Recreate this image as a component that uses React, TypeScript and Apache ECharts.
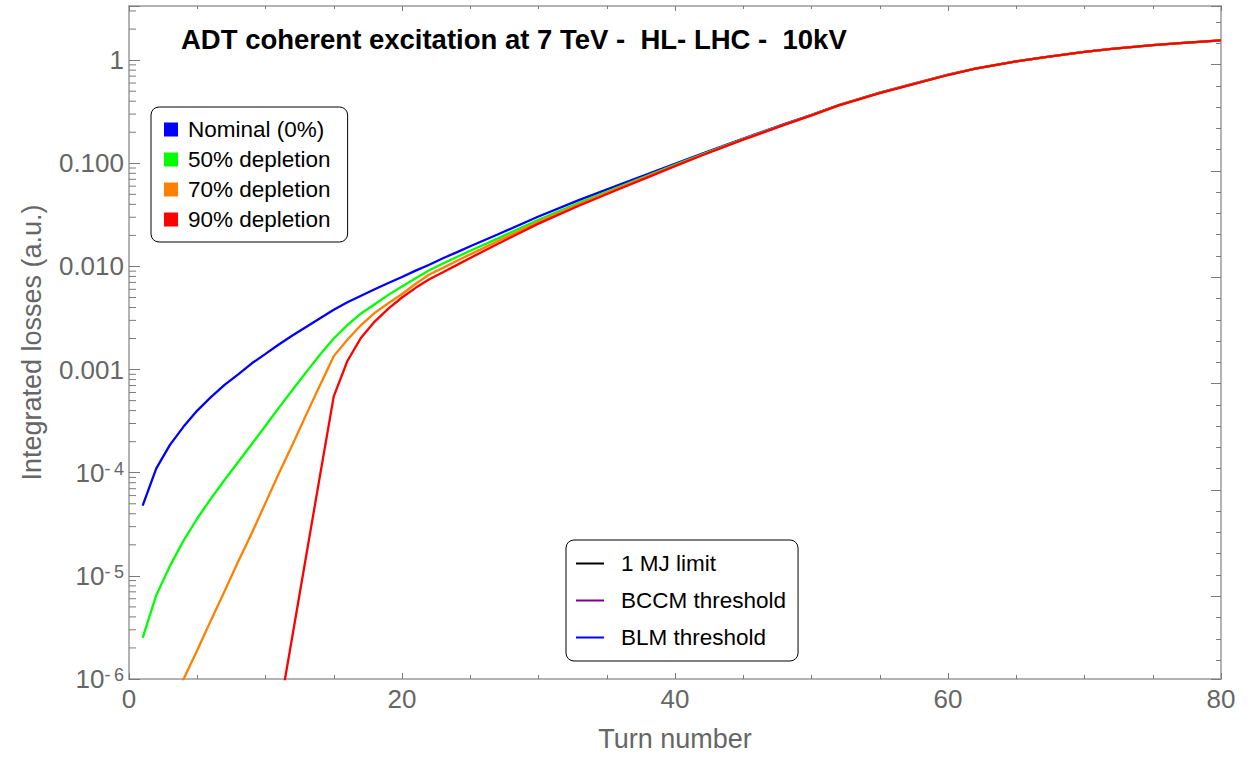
import React, { useEffect, useRef } from "react";
import * as echarts from "echarts";

// ---- data ----
const turns = [1, 2, 3, 4, 5, 6, 7, 8, 9, 10, 11, 12, 13, 14, 15, 16, 17, 18, 19, 20, 21, 22, 23, 24, 25, 27, 30, 33, 36, 38, 40, 42, 45, 48, 50, 52, 55, 57, 60, 62, 65, 67, 70, 72, 75, 77, 80];

const nominal = [4.8e-5, 1.1e-4, 1.86e-4, 2.8e-4, 4.0e-4, 5.4e-4, 7.1e-4, 9.0e-4, 1.15e-3, 1.42e-3, 1.76e-3, 2.15e-3, 2.6e-3, 3.15e-3, 3.8e-3, 4.5e-3, 5.2e-3, 6.0e-3, 6.9e-3, 7.9e-3, 9.1e-3, 0.0104, 0.012, 0.0137, 0.01567, 0.0204, 0.0305, 0.04416, 0.0624, 0.0785, 0.0989, 0.1245, 0.1738, 0.2399, 0.2951, 0.3673, 0.4842, 0.5689, 0.7244, 0.8279, 0.9727, 1.0617, 1.2023, 1.2882, 1.3964, 1.4622, 1.556];

const depletion50 = [2.5e-6, 6.5e-6, 1.25e-5, 2.2e-5, 3.6e-5, 5.6e-5, 8.5e-5, 1.27e-4, 1.9e-4, 2.85e-4, 4.3e-4, 6.4e-4, 9.5e-4, 1.4e-3, 2.0e-3, 2.7e-3, 3.5e-3, 4.3e-3, 5.3e-3, 6.4e-3, 7.7e-3, 9.2e-3, 0.01067, 0.01233, 0.01419, 0.01862, 0.02838, 0.04169, 0.05984, 0.07603, 0.09661, 0.1222, 0.1718, 0.2377, 0.2931, 0.3656, 0.4819, 0.5662, 0.7211, 0.8279, 0.9727, 1.0617, 1.2023, 1.2882, 1.3964, 1.4622, 1.556];

const depletion70 = [null, null, 5.1e-7, 1.0e-6, 1.9e-6, 3.7e-6, 7.1e-6, 1.38e-5, 2.6e-5, 5.1e-5, 1.0e-4, 1.9e-4, 3.7e-4, 7.1e-4, 1.35e-3, 1.95e-3, 2.7e-3, 3.55e-3, 4.4e-3, 5.4e-3, 6.8e-3, 8.35e-3, 9.68e-3, 0.01127, 0.0131, 0.01754, 0.0271, 0.04027, 0.05848, 0.07464, 0.09528, 0.1211, 0.1706, 0.2366, 0.2917, 0.3648, 0.4808, 0.5649, 0.7194, 0.8279, 0.9727, 1.0617, 1.2023, 1.2882, 1.3964, 1.4622, 1.556];

const depletion90 = [null, null, null, null, null, null, null, null, null, null, 4.7e-7, 2.75e-6, 1.62e-5, 9.5e-5, 5.5e-4, 1.21e-3, 2.04e-3, 2.92e-3, 3.9e-3, 5.0e-3, 6.2e-3, 7.5e-3, 8.77e-3, 0.0103, 0.01208, 0.01652, 0.026, 0.039, 0.05689, 0.07311, 0.09376, 0.1197, 0.1694, 0.2355, 0.2911, 0.3639, 0.4797, 0.5636, 0.7178, 0.8279, 0.9727, 1.0617, 1.2023, 1.2882, 1.3964, 1.4622, 1.556];

const seriesNames = ["Nominal (0%)", "50% depletion", "70% depletion", "90% depletion"];
const seriesColors = ["#0000ff", "#00ff00", "#ff8000", "#ff0000"];
const thresholdNames = ["1 MJ limit", "BCCM threshold", "BLM threshold"];
const thresholdColors = ["#000000", "#800080", "#0000ff"];

const xMin = 0;
const xMax = 80;
const yMin = 1e-6;
const yMax = 3.35;

const FONT = "'Liberation Sans', Arial, Helvetica, sans-serif";
const GRAY = "#666666";
const FRAME = "#9a9a9a";
const TICK = "#7a7a7a";

function pairs(values: (number | null)[]) {
  const out: [number, number][] = [];
  turns.forEach((t, i) => {
    const v = values[i];
    if (v !== null && v !== undefined) out.push([t, v]);
  });
  return out;
}

function logMinorTickValues() {
  const vals: number[] = [];
  for (let e = -6; e <= 0; e++) {
    for (let k = 2; k <= 9; k++) {
      const v = k * Math.pow(10, e);
      if (v > yMin && v < yMax) vals.push(v);
    }
  }
  return vals;
}

export default function App() {
  const ref = useRef<HTMLDivElement>(null);

  useEffect(() => {
    if (!ref.current) return;
    const chart = echarts.init(ref.current, undefined, { renderer: "svg" });
    const allData = [nominal, depletion50, depletion70, depletion90];

    const option: any = {
      animation: false,
      backgroundColor: "#ffffff",
      title: {
        text: "ADT coherent excitation at 7 TeV -  HL- LHC -  10kV",
        left: 181,
        top: 25,
        padding: 0,
        textStyle: { fontFamily: FONT, fontSize: 27.5, fontWeight: "bold", color: "#000" },
      },
      grid: { left: 129, right: 32, top: 6, bottom: 76, containLabel: false },
      legend: [
        {
          data: seriesNames.map((n) => ({ name: n, icon: "rect" })),
          orient: "vertical",
          left: 151,
          top: 107,
          padding: [11, 17, 11, 13],
          itemGap: 7,
          itemWidth: 14,
          itemHeight: 14,
          borderColor: "#000",
          borderWidth: 1,
          borderRadius: 8,
          backgroundColor: "#fff",
          selectedMode: false,
          textStyle: { fontFamily: FONT, fontSize: 22.5, color: "#000", padding: [0, 0, 0, 5] },
        },
        {
          data: thresholdNames.map((n) => ({ name: n, icon: "rect" })),
          orient: "vertical",
          left: 566,
          top: 540,
          padding: [12, 12, 12, 10],
          itemGap: 14,
          itemWidth: 28,
          itemHeight: 2,
          borderColor: "#000",
          borderWidth: 1,
          borderRadius: 8,
          backgroundColor: "#fff",
          selectedMode: false,
          textStyle: { fontFamily: FONT, fontSize: 22.5, color: "#000", padding: [0, 0, 0, 12] },
        },
      ],
      xAxis: [
        {
          type: "value",
          min: xMin,
          max: xMax,
          interval: 20,
          position: "bottom",
          name: "Turn number",
          nameLocation: "middle",
          nameGap: 46,
          nameTextStyle: { fontFamily: FONT, fontSize: 27, color: GRAY },
          axisLine: { show: true, onZero: false, lineStyle: { color: FRAME, width: 1.5 } },
          axisTick: { show: true, inside: true, length: 6, lineStyle: { color: TICK } },
          minorTick: { show: true, splitNumber: 4, length: 4, lineStyle: { color: TICK } },
          axisLabel: { fontFamily: FONT, fontSize: 26, color: GRAY, margin: 7 },
          splitLine: { show: false },
        },
        {
          type: "value",
          min: xMin,
          max: xMax,
          interval: 20,
          position: "top",
          axisLine: { show: true, onZero: false, lineStyle: { color: FRAME, width: 1.5 } },
          axisTick: { show: true, inside: true, length: 5, lineStyle: { color: TICK } },
          minorTick: { show: true, splitNumber: 4, length: 3, lineStyle: { color: TICK } },
          axisLabel: { show: false },
          splitLine: { show: false },
        },
      ],
      yAxis: [
        {
          type: "log",
          logBase: 10,
          min: yMin,
          max: yMax,
          position: "left",
          name: "Integrated losses (a.u.)",
          nameLocation: "middle",
          nameGap: 84,
          nameRotate: 90,
          nameTextStyle: { fontFamily: FONT, fontSize: 27, color: GRAY },
          axisLine: { show: true, onZero: false, lineStyle: { color: FRAME, width: 1.5 } },
          axisTick: { show: true, inside: true, length: 11, lineStyle: { color: TICK } },
          axisLabel: {
            fontFamily: FONT,
            fontSize: 26,
            color: GRAY,
            margin: 5,
            formatter: (v: number) => {
              const e = Math.log10(v);
              const r = Math.round(e);
              if (Math.abs(e - r) > 1e-6) return "";
              if (r === 0) return "1";
              if (r >= -3) return Math.pow(10, r).toFixed(3);
              return `{b|10}{s|-\u2009${-r}}`;
            },
            rich: {
              b: { fontFamily: FONT, fontSize: 26, color: GRAY },
              s: { fontFamily: FONT, fontSize: 18, color: GRAY, verticalAlign: "top" },
            },
          },
          splitLine: { show: false },
        },
        {
          type: "value",
          position: "right",
          min: -0.778,
          max: 5.551,
          minInterval: 1,
          maxInterval: 1,
          axisLine: { show: true, onZero: false, lineStyle: { color: FRAME, width: 1.5 } },
          axisTick: { show: true, inside: true, length: 10, lineStyle: { color: TICK } },
          minorTick: { show: true, splitNumber: 5, length: 5, lineStyle: { color: TICK } },
          axisLabel: { show: false },
          splitLine: { show: false },
        },
      ],
      series: [
        ...seriesNames.map((name, i) => ({
          name,
          type: "line",
          xAxisIndex: 0,
          yAxisIndex: 0,
          data: pairs(allData[i]),
          showSymbol: false,
          symbol: "none",
          clip: true,
          color: seriesColors[i],
          lineStyle: { color: seriesColors[i], width: 2.3 },
          z: 3 + i,
        })),
        ...thresholdNames.map((name, i) => ({
          name,
          type: "line",
          xAxisIndex: 0,
          yAxisIndex: 0,
          data: [],
          showSymbol: false,
          color: thresholdColors[i],
          lineStyle: { color: thresholdColors[i], width: 2 },
        })),
        {
          name: "log minor ticks",
          type: "custom",
          xAxisIndex: 0,
          yAxisIndex: 0,
          silent: true,
          clip: true,
          z: 2,
          data: logMinorTickValues().map((v) => [xMin, v]),
          renderItem: (_params: any, api: any) => {
            const p = api.coord([xMin, api.value(1)]);
            return {
              type: "line",
              shape: { x1: p[0], y1: p[1], x2: p[0] + 7, y2: p[1] },
              style: { stroke: TICK, lineWidth: 1 },
            };
          },
        },
      ],
    };

    chart.setOption(option);
    return () => chart.dispose();
  }, []);

  return (
    <div
      ref={ref}
      style={{ position: "fixed", left: 0, top: 0, width: 1253, height: 757, background: "#fff" }}
    />
  );
}
